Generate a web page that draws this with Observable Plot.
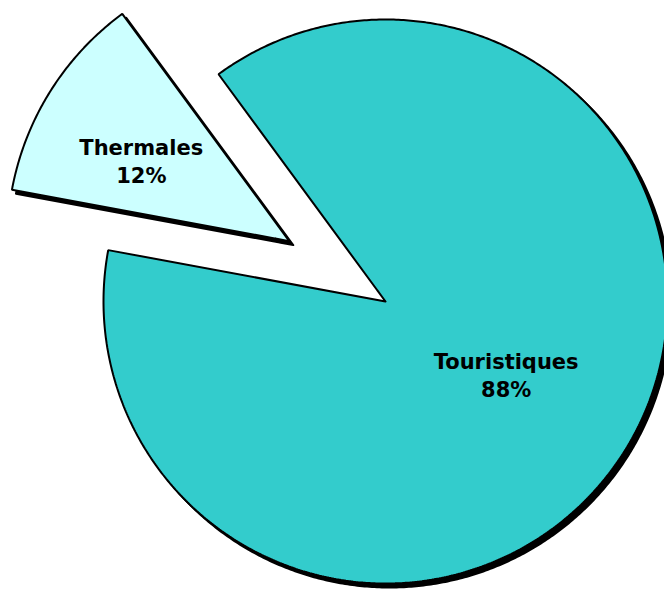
<!DOCTYPE html>
<html><head><meta charset="utf-8">
<script src="https://cdn.jsdelivr.net/npm/d3@7"></script>
<script src="https://cdn.jsdelivr.net/npm/@observablehq/plot@0.6"></script>
<style>html,body{margin:0;padding:0;background:#fff;} #chart svg{display:block;}</style>
</head><body><div id="chart"></div>
<script>
// Data
const categories = ["Touristiques", "Thermales"];
const values = [88, 12];
const valueLabels = ["88%", "12%"];
const colors = ["#33CCCC", "#CCFFFF"];

// Layout config (chart styling, not data)
const cfg = {
  startDeg: -36.3,
  explode: [0, 0.403],
  labelRadius: [0.505, 0.59],
  labelNudge: [[0, -3.5], [-7, 7.5]],
  xDomain: [-1.36525, 0.98936],
  yDomain: [-1.02482, 1.06738]
};

const start = cfg.startDeg * Math.PI / 180;
const arcs = d3.pie().sort(null).startAngle(start).endAngle(start + 2 * Math.PI)(values);

const pts = [];
const labels = [];
arcs.forEach((a, i) => {
  const k = categories[i];
  const mid = (a.startAngle + a.endAngle) / 2;
  const ox = cfg.explode[i] * Math.sin(mid), oy = cfg.explode[i] * Math.cos(mid);
  pts.push({k, x: ox, y: oy, c: colors[i]});
  const n = Math.ceil((a.endAngle - a.startAngle) / (Math.PI / 360));
  for (let j = 0; j <= n; j++) {
    const t = a.startAngle + (a.endAngle - a.startAngle) * j / n;
    pts.push({k, x: ox + Math.sin(t), y: oy + Math.cos(t), c: colors[i]});
  }
  pts.push({k, x: ox, y: oy, c: colors[i]});
  pts.push({k, x: ox + Math.sin(a.startAngle) * 0.05, y: oy + Math.cos(a.startAngle) * 0.05, c: colors[i]});
  const r = cfg.labelRadius[i];
  labels.push({k, x: ox + r * Math.sin(mid), y: oy + r * Math.cos(mid), text: k + "\n" + valueLabels[i], i});
});

const textOpts = {
  x: "x", y: "y", text: "text",
  fontSize: 21, fontWeight: "bold", fontFamily: "DejaVu Sans, Verdana, sans-serif",
  lineHeight: 1.33, lineAnchor: "middle", textAnchor: "middle", fill: "#000"
};

const chart = Plot.plot({
  width: 664, height: 590,
  margin: 0,
  x: {domain: cfg.xDomain, axis: null},
  y: {domain: cfg.yDomain, axis: null},
  marks: [
    Plot.line(pts, {x: "x", y: "y", z: "k", fill: "#000", stroke: "#000", strokeWidth: 2, dx: 4, dy: 4, curve: "linear"}),
    Plot.line(pts, {x: "x", y: "y", z: "k", fill: d => d.c, stroke: "#000", strokeWidth: 2, strokeLinejoin: "miter", curve: "linear"}),
    ...labels.map((l, i) => Plot.text([l], {...textOpts, dx: cfg.labelNudge[i][0], dy: cfg.labelNudge[i][1]}))
  ]
});
document.getElementById("chart").appendChild(chart);
</script>
</body></html>
